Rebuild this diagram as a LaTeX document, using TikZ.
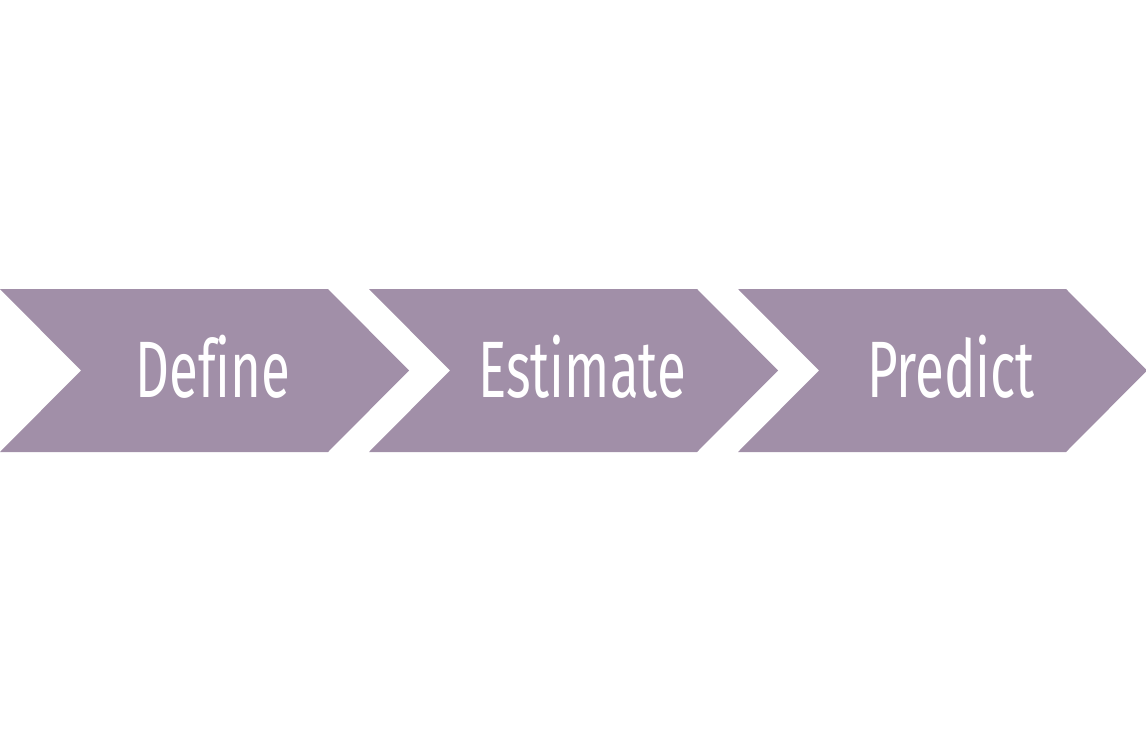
\documentclass[tikz,border=0pt]{standalone}
\usepackage{fontspec}
\newfontfamily\chevfont[FakeStretch=0.66, Ligatures=NoCommon]{Fira Sans}
\usepackage{tikz}
\definecolor{mauve}{RGB}{161,143,168}

\begin{document}
\begin{tikzpicture}[
    x=1pt, y=-1pt,
    chevron/.style={fill=mauve, draw=none},
    steplabel/.style={text=white, font=\chevfont\fontsize{80}{82}\selectfont, inner sep=0pt, anchor=center}
]
    \useasboundingbox (0,0) rectangle (1146,741);
    % Three chevrons, left to right
    \foreach \name/\txt [count=\i from 0] in {define/Define, estimate/Estimate, predict/Predict} {
        \fill[chevron] (\i*369,289) -- ++(328,0) -- ++(81,81.5) -- ++(-81,81.5)
            -- ++(-328,0) -- ++(81,-81.5) -- cycle;
        \node[steplabel] (\name) at (\i*369+213,367) {\txt};
    }
\end{tikzpicture}
\end{document}
